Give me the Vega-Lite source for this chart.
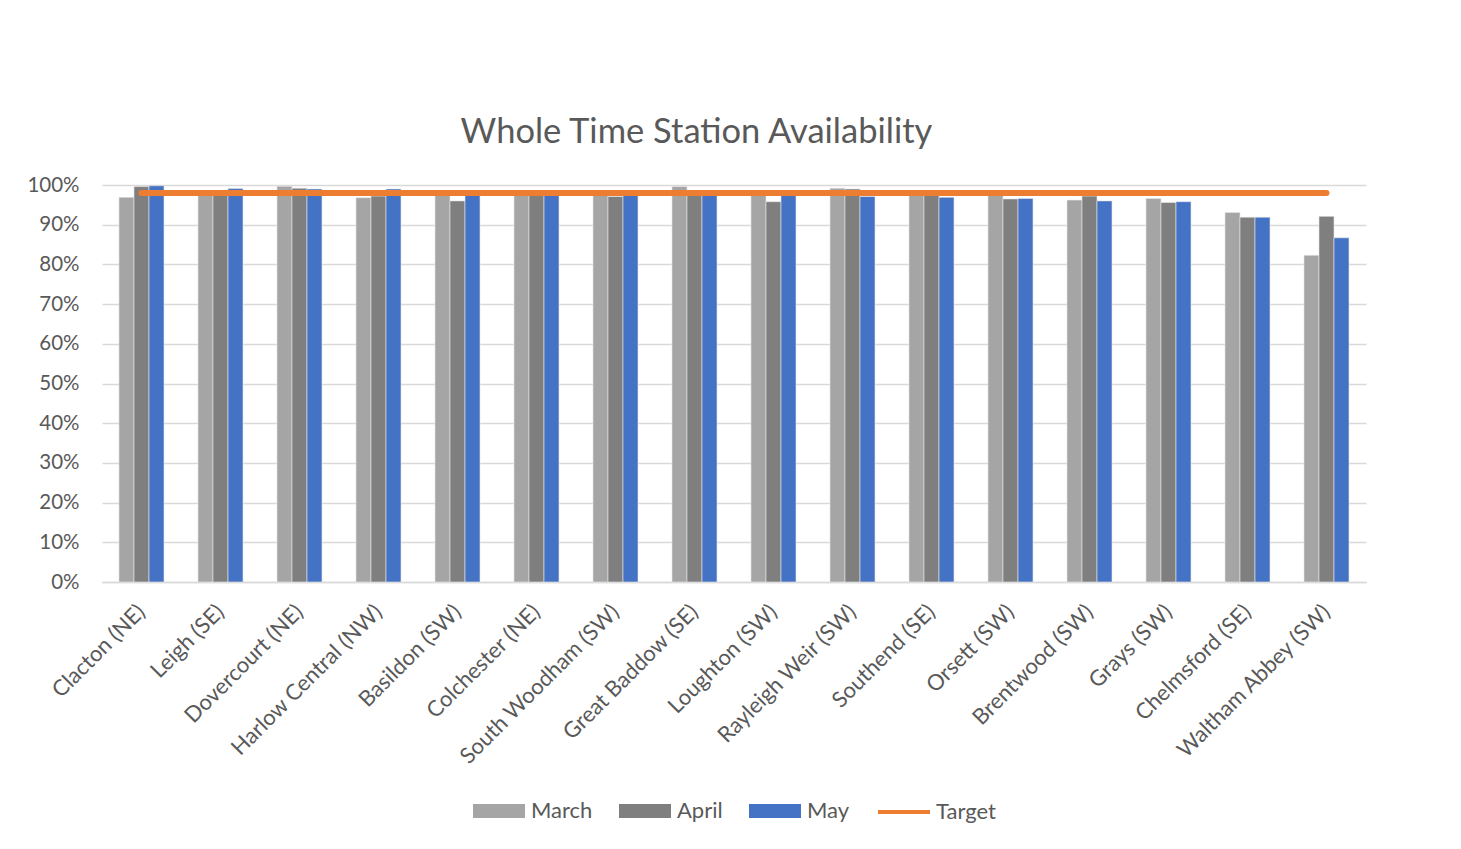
{
  "$schema": "https://vega.github.io/schema/vega-lite/v6.json",
  "width": 1264,
  "height": 397,
  "padding": {"left": 26, "top": 114, "right": 60, "bottom": 10},
  "background": "white",
  "title": {
    "text": "Whole Time Station Availability",
    "font": "Lato",
    "fontSize": 34.5,
    "fontWeight": "normal",
    "color": "#595959",
    "anchor": "middle",
    "frame": "bounds",
    "offset": 25
  },
  "datasets": {
    "bars": [
      {"station": "Clacton (NE)", "month": "March", "value": 0.969},
      {"station": "Clacton (NE)", "month": "April", "value": 0.996},
      {"station": "Clacton (NE)", "month": "May", "value": 0.998},
      {"station": "Leigh (SE)", "month": "March", "value": 0.983},
      {"station": "Leigh (SE)", "month": "April", "value": 0.984},
      {"station": "Leigh (SE)", "month": "May", "value": 0.991},
      {"station": "Dovercourt (NE)", "month": "March", "value": 0.997},
      {"station": "Dovercourt (NE)", "month": "April", "value": 0.992},
      {"station": "Dovercourt (NE)", "month": "May", "value": 0.99},
      {"station": "Harlow Central (NW)", "month": "March", "value": 0.968},
      {"station": "Harlow Central (NW)", "month": "April", "value": 0.972},
      {"station": "Harlow Central (NW)", "month": "May", "value": 0.99},
      {"station": "Basildon (SW)", "month": "March", "value": 0.975},
      {"station": "Basildon (SW)", "month": "April", "value": 0.96},
      {"station": "Basildon (SW)", "month": "May", "value": 0.978},
      {"station": "Colchester (NE)", "month": "March", "value": 0.98},
      {"station": "Colchester (NE)", "month": "April", "value": 0.979},
      {"station": "Colchester (NE)", "month": "May", "value": 0.977},
      {"station": "South Woodham (SW)", "month": "March", "value": 0.978},
      {"station": "South Woodham (SW)", "month": "April", "value": 0.971},
      {"station": "South Woodham (SW)", "month": "May", "value": 0.978},
      {"station": "Great Baddow (SE)", "month": "March", "value": 0.996},
      {"station": "Great Baddow (SE)", "month": "April", "value": 0.98},
      {"station": "Great Baddow (SE)", "month": "May", "value": 0.978},
      {"station": "Loughton (SW)", "month": "March", "value": 0.976},
      {"station": "Loughton (SW)", "month": "April", "value": 0.958},
      {"station": "Loughton (SW)", "month": "May", "value": 0.975},
      {"station": "Rayleigh Weir (SW)", "month": "March", "value": 0.992},
      {"station": "Rayleigh Weir (SW)", "month": "April", "value": 0.99},
      {"station": "Rayleigh Weir (SW)", "month": "May", "value": 0.971},
      {"station": "Southend (SE)", "month": "March", "value": 0.976},
      {"station": "Southend (SE)", "month": "April", "value": 0.975},
      {"station": "Southend (SE)", "month": "May", "value": 0.969},
      {"station": "Orsett (SW)", "month": "March", "value": 0.977},
      {"station": "Orsett (SW)", "month": "April", "value": 0.965},
      {"station": "Orsett (SW)", "month": "May", "value": 0.966},
      {"station": "Brentwood (SW)", "month": "March", "value": 0.962},
      {"station": "Brentwood (SW)", "month": "April", "value": 0.972},
      {"station": "Brentwood (SW)", "month": "May", "value": 0.96},
      {"station": "Grays (SW)", "month": "March", "value": 0.966},
      {"station": "Grays (SW)", "month": "April", "value": 0.956},
      {"station": "Grays (SW)", "month": "May", "value": 0.958},
      {"station": "Chelmsford (SE)", "month": "March", "value": 0.931},
      {"station": "Chelmsford (SE)", "month": "April", "value": 0.919},
      {"station": "Chelmsford (SE)", "month": "May", "value": 0.919},
      {"station": "Waltham Abbey (SW)", "month": "March", "value": 0.823},
      {"station": "Waltham Abbey (SW)", "month": "April", "value": 0.921},
      {"station": "Waltham Abbey (SW)", "month": "May", "value": 0.867}
    ],
    "target": [
      {"station": "Clacton (NE)", "series": "Target", "value": 0.98},
      {"station": "Leigh (SE)", "series": "Target", "value": 0.98},
      {"station": "Dovercourt (NE)", "series": "Target", "value": 0.98},
      {"station": "Harlow Central (NW)", "series": "Target", "value": 0.98},
      {"station": "Basildon (SW)", "series": "Target", "value": 0.98},
      {"station": "Colchester (NE)", "series": "Target", "value": 0.98},
      {"station": "South Woodham (SW)", "series": "Target", "value": 0.98},
      {"station": "Great Baddow (SE)", "series": "Target", "value": 0.98},
      {"station": "Loughton (SW)", "series": "Target", "value": 0.98},
      {"station": "Rayleigh Weir (SW)", "series": "Target", "value": 0.98},
      {"station": "Southend (SE)", "series": "Target", "value": 0.98},
      {"station": "Orsett (SW)", "series": "Target", "value": 0.98},
      {"station": "Brentwood (SW)", "series": "Target", "value": 0.98},
      {"station": "Grays (SW)", "series": "Target", "value": 0.98},
      {"station": "Chelmsford (SE)", "series": "Target", "value": 0.98},
      {"station": "Waltham Abbey (SW)", "series": "Target", "value": 0.98}
    ]
  },
  "encoding": {
    "x": {
      "field": "station",
      "type": "nominal",
      "sort": null,
      "scale": {"paddingInner": 0.43, "paddingOuter": 0.215},
      "axis": {
        "title": null,
        "labelAngle": -45,
        "labelAlign": "right",
        "labelBaseline": "middle",
        "labelFont": "Lato",
        "labelFontSize": 22,
        "labelColor": "#595959",
        "labelPadding": 26,
        "ticks": false,
        "grid": false,
        "domainColor": "#D9D9D9",
        "domainWidth": 1.5,
        "labelLimit": 400,
        "labelOverlap": false
      }
    },
    "y": {
      "field": "value",
      "type": "quantitative",
      "scale": {"domain": [0, 1]},
      "axis": {
        "title": null,
        "format": ".0%",
        "values": [0, 0.1, 0.2, 0.3, 0.4, 0.5, 0.6, 0.7, 0.8, 0.9, 1],
        "tickCount": 20,
        "labelOverlap": false,
        "labelFont": "Lato",
        "labelFontSize": 20.5,
        "labelColor": "#595959",
        "labelPadding": 23,
        "ticks": false,
        "domain": false,
        "grid": true,
        "gridColor": "#D9D9D9",
        "gridWidth": 1.5
      }
    }
  },
  "layer": [
    {
      "data": {"name": "bars"},
      "mark": {"type": "bar", "stroke": "#EAEAEA", "strokeWidth": 0.6},
      "encoding": {
        "xOffset": {"field": "month", "type": "nominal", "sort": ["March", "April", "May"]},
        "color": {
          "field": "month",
          "type": "nominal",
          "sort": ["March", "April", "May"],
          "scale": {"domain": ["March", "April", "May"], "range": ["#A5A5A5", "#7F7F7F", "#4472C4"]},
          "legend": {
            "title": null,
            "orient": "bottom",
            "direction": "horizontal",
            "symbolType": "M-1,-0.27H1V0.27H-1Z",
            "symbolSize": 2704,
            "symbolStrokeWidth": 0,
            "labelFont": "Lato",
            "labelFontSize": 22,
            "labelColor": "#595959",
            "labelOffset": 6,
            "columnPadding": 26,
            "offset": 16
          }
        }
      }
    },
    {
      "data": {"name": "target"},
      "mark": {"type": "line", "strokeWidth": 6, "strokeCap": "round"},
      "encoding": {
        "stroke": {
          "field": "series",
          "type": "nominal",
          "scale": {"domain": ["Target"], "range": ["#ED7D31"]},
          "legend": {
            "title": null,
            "orient": "bottom",
            "direction": "horizontal",
            "symbolType": "stroke",
            "symbolSize": 2704,
            "symbolStrokeWidth": 4,
            "labelFont": "Lato",
            "labelFontSize": 22,
            "labelColor": "#595959",
            "labelOffset": 4,
            "offset": 16
          }
        }
      }
    }
  ],
  "config": {
    "view": {"stroke": null},
    "legend": {
      "layout": {
        "bottom": {"anchor": "middle", "direction": "horizontal", "margin": 26, "center": true}
      }
    }
  }
}
